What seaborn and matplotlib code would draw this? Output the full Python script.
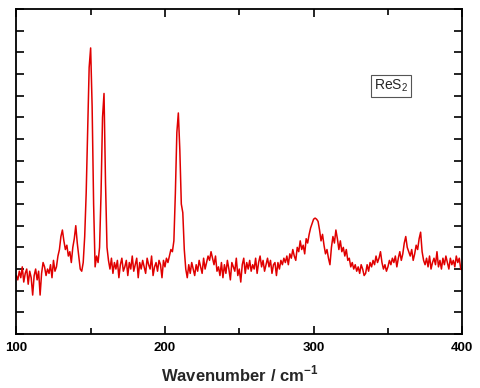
import numpy as np
import pandas as pd
import matplotlib
matplotlib.use("Agg")
import matplotlib.pyplot as plt
import seaborn as sns
from matplotlib.ticker import MultipleLocator, NullFormatter

# Espectro Raman de ReS2 (intensidad en unidades arbitrarias)
wavenumber = list(range(100, 401))
intensity = [
    2.7, 2.5, 2.9, 2.6, 3.1, 2.4, 2.8, 3.0, 2.3, 2.9,
    2.6, 1.8, 2.7, 3.0, 2.5, 2.9, 1.8, 2.8, 3.3, 3.1,
    2.7, 3.0, 2.8, 3.2, 2.6, 3.4, 2.9, 3.1, 3.6, 3.9,
    4.5, 4.8, 4.3, 3.9, 4.1, 3.6, 3.8, 3.3, 4.0, 4.4,
    5.0, 4.2, 3.6, 3.0, 2.9, 3.3, 4.5, 6.5, 9.5, 12.3,
    13.2, 10.5, 6.0, 3.1, 3.6, 3.3, 4.0, 6.5, 10.0, 11.1,
    7.0, 4.0, 3.4, 3.0, 3.5, 2.8, 3.3, 3.0, 3.4, 2.6,
    3.2, 3.5, 2.9, 3.1, 3.4, 2.7, 3.3, 3.0, 3.6, 2.9,
    3.2, 3.5, 2.6, 3.3, 3.0, 3.4, 3.1, 2.8, 3.5, 3.2,
    3.0, 3.6, 2.7, 3.1, 3.3, 2.9, 3.4, 3.2, 2.6, 3.4,
    3.1, 3.5, 3.3, 3.6, 3.9, 3.8, 4.3, 6.5, 9.3, 10.2,
    8.5, 6.0, 5.6, 3.9, 3.0, 2.6, 3.2, 2.8, 3.3, 3.0,
    2.7, 3.2, 2.9, 3.4, 3.1, 2.8, 3.5, 3.0, 3.3, 3.6,
    3.4, 3.8, 3.5, 3.2, 3.6, 2.9, 3.1, 2.7, 3.3, 2.6,
    3.2, 2.8, 3.4, 3.0, 2.5, 3.3, 3.1, 2.9, 3.5, 2.7,
    3.0, 2.4, 3.2, 3.5, 2.8, 3.3, 3.0, 3.4, 2.9, 3.2,
    3.0, 3.5, 2.8, 3.3, 3.6, 3.1, 3.4, 2.9, 3.2, 3.5,
    3.1, 3.4, 2.8, 3.2, 3.3, 2.7, 3.3, 3.0, 3.4, 3.2,
    3.5, 3.3, 3.6, 3.2, 3.7, 3.5, 3.9, 3.6, 3.4, 4.0,
    3.8, 4.3, 3.9, 4.1, 3.7, 4.4, 4.2, 4.6, 4.9, 5.1,
    5.3, 5.35, 5.3, 5.2, 4.8, 4.3, 4.6, 4.1, 3.7, 3.9,
    3.5, 3.2, 4.0, 4.5, 4.2, 4.8, 4.4, 3.9, 4.3, 3.8,
    4.0, 3.6, 3.9, 3.4, 3.5, 3.1, 3.3, 3.0, 3.2, 2.9,
    3.1, 2.8, 3.2, 3.0, 2.7, 2.8, 3.2, 2.9, 3.3, 3.1,
    3.4, 3.2, 3.6, 3.3, 3.5, 3.8, 3.3, 3.0, 3.2, 2.9,
    3.1, 3.4, 3.2, 3.5, 3.3, 3.6, 3.1, 3.5, 3.8, 3.4,
    3.7, 4.2, 4.5, 4.0, 3.8, 3.6, 3.9, 3.4, 3.7, 4.1,
    3.9, 4.4, 4.7, 3.8, 3.4, 3.2, 3.5, 3.1, 3.6, 3.0,
    3.3, 3.5, 3.2, 3.8, 3.1, 3.4, 3.0, 3.5, 3.2, 3.6,
    3.3, 3.0, 3.5, 3.2, 3.4, 3.1, 3.6, 3.3, 3.5, 3.0,
    2.95,
]
etiqueta = "ReS$_2$"

raman = pd.DataFrame({"wavenumber": wavenumber, "intensidad": intensity})

sns.set_style("ticks")
plt.rcParams["font.family"] = ["Liberation Sans", "DejaVu Sans"]
plt.rcParams["mathtext.fontset"] = "custom"
plt.rcParams["mathtext.rm"] = "Liberation Sans"
plt.rcParams["mathtext.bf"] = "Liberation Sans:bold"

fig = plt.figure(figsize=(4.8, 3.88), dpi=100)
ax = fig.add_axes([0.034, 0.139, 0.929, 0.838])

sns.lineplot(data=raman, x="wavenumber", y="intensidad", ax=ax,
             color="#e00000", linewidth=1.1)

ax.set_xlim(100, 400)
ax.set_ylim(0, 15)
ax.xaxis.set_major_locator(MultipleLocator(100))
ax.xaxis.set_minor_locator(MultipleLocator(50))
ax.yaxis.set_major_locator(MultipleLocator(1))
ax.yaxis.set_major_formatter(NullFormatter())
ax.tick_params(which="both", direction="in", top=True, right=True, width=1.2,
               colors="black")
ax.tick_params(which="major", length=6)
ax.tick_params(which="minor", length=4)
ax.tick_params(axis="x", labelsize=9.5, pad=6)
for lbl in ax.get_xticklabels():
    lbl.set_fontweight("bold")
for s in ax.spines.values():
    s.set_linewidth(1.3)
    s.set_color("black")

ax.set_xlabel("Wavenumber / cm$^{\\mathbf{-1}}$", fontsize=12, fontweight="bold",
              labelpad=7)
ax.set_ylabel("")

ax.text(352, 11.45, etiqueta, fontsize=10, ha="center", va="center",
        bbox=dict(boxstyle="square,pad=0.2", facecolor="white",
                  edgecolor="#555555", linewidth=0.8))

fig.savefig("out.png", dpi=100)
